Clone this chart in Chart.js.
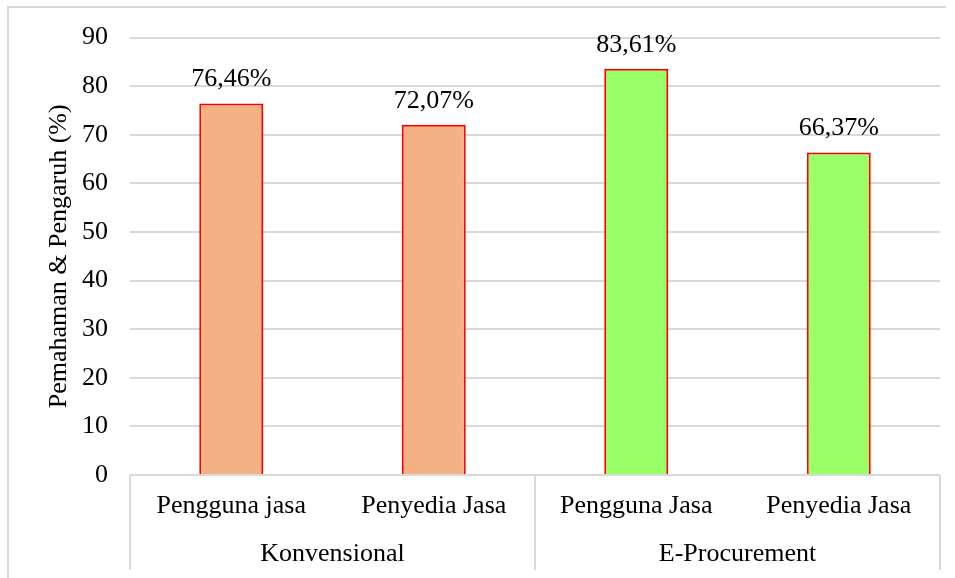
<!DOCTYPE html>
<html>
<head>
<meta charset="utf-8">
<script src="https://cdn.jsdelivr.net/npm/chart.js@4.4.1/dist/chart.umd.min.js"></script>
<style>
  body { margin: 0; background: #fff; }
  canvas { display: block; }
</style>
</head>
<body>
<canvas id="chart" width="955" height="578"></canvas>
<script>
const categories = ['Pengguna jasa', 'Penyedia Jasa', 'Pengguna Jasa', 'Penyedia Jasa'];
const groups = ['Konvensional', 'E-Procurement'];
const values = [76.46, 72.07, 83.61, 66.37];
const barColors = ['#f4b183', '#f4b183', '#99ff66', '#99ff66'];
const yTitle = 'Pemahaman & Pengaruh (%)';

const serif = 'Liberation Serif';
const gridGray = '#d9d9d9';

// border around the whole figure + group separators under the axis
const framePlugin = {
    id: 'frame',
    beforeDraw(chart) {
        const ctx = chart.ctx;
        ctx.save();
        ctx.strokeStyle = gridGray;
        ctx.lineWidth = 2;
        ctx.beginPath();
        ctx.moveTo(8, chart.height);
        ctx.lineTo(8, 7);
        ctx.lineTo(946, 7);
        ctx.stroke();
        ctx.restore();
    },
    afterDraw(chart) {
        const ctx = chart.ctx;
        const x = chart.scales.x;
        const mid = (x.getPixelForValue(1) + x.getPixelForValue(2)) / 2;
        ctx.save();
        ctx.strokeStyle = gridGray;
        ctx.lineWidth = 2;
        [x.left, mid, x.right].forEach(px => {
            ctx.beginPath();
            ctx.moveTo(px, x.top);
            ctx.lineTo(px, 570);
            ctx.stroke();
        });
        ctx.restore();
    }
};

// value labels above each bar
const valueLabels = {
    id: 'valueLabels',
    afterDatasetsDraw(chart) {
        const ctx = chart.ctx;
        const meta = chart.getDatasetMeta(0);
        ctx.save();
        ctx.font = '26px "' + serif + '"';
        ctx.fillStyle = '#000';
        ctx.textAlign = 'center';
        ctx.textBaseline = 'alphabetic';
        meta.data.forEach((bar, i) => {
            const txt = values[i].toFixed(2).replace('.', ',') + '%';
            ctx.fillText(txt, bar.x, bar.y - 17);
        });
        ctx.restore();
    }
};

new Chart(document.getElementById('chart'), {
    type: 'bar',
    data: {
        labels: categories,
        datasets: [{
            data: values,
            backgroundColor: barColors,
            borderColor: '#ff0000',
            borderWidth: 2,
            borderSkipped: 'bottom',
            barPercentage: 0.316,
            categoryPercentage: 1
        }]
    },
    options: {
        responsive: false,
        animation: false,
        layout: { padding: { top: 36, right: 15, left: 0, bottom: 0 } },
        plugins: {
            legend: { display: false },
            tooltip: { enabled: false }
        },
        scales: {
            y: {
                min: 0,
                max: 90,
                ticks: {
                    stepSize: 10,
                    color: '#000',
                    padding: 22,
                    font: { family: serif, size: 26 }
                },
                grid: { color: gridGray, lineWidth: 2, drawTicks: false },
                border: { display: false },
                title: {
                    display: true,
                    text: yTitle,
                    color: '#000',
                    font: { family: serif, size: 26 },
                    padding: { top: 44, bottom: 0 }
                },
                afterFit(scale) { scale.width = 130; }
            },
            x: {
                weight: 0,
                grid: { display: false },
                border: { display: false },
                ticks: {
                    color: '#000',
                    padding: 8,
                    maxRotation: 0,
                    autoSkip: false,
                    font: { family: serif, size: 26 }
                },
                afterFit(scale) { scale.height = 52; }
            },
            x2: {
                type: 'category',
                position: 'bottom',
                weight: 1,
                labels: groups,
                offset: true,
                grid: { display: false },
                border: { display: false },
                ticks: {
                    color: '#000',
                    padding: 4,
                    maxRotation: 0,
                    autoSkip: false,
                    font: { family: serif, size: 26 }
                },
                afterFit(scale) { scale.height = 51; }
            }
        }
    },
    plugins: [framePlugin, valueLabels]
});
</script>
</body>
</html>
